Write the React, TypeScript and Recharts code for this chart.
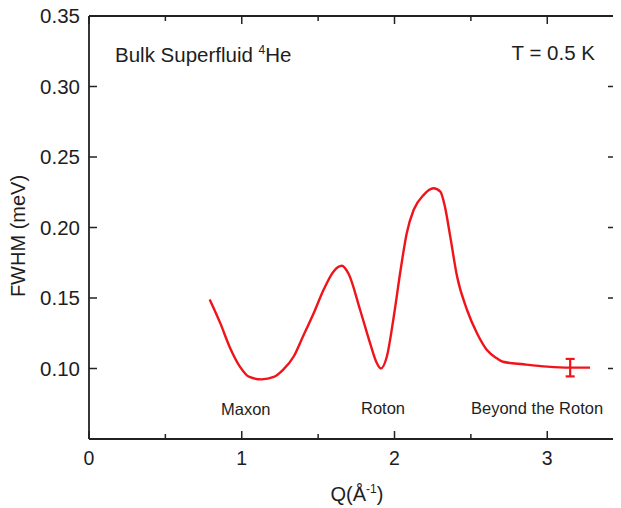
import React from 'react';
import { ComposedChart, Line, Scatter, ErrorBar, XAxis, YAxis } from 'recharts';

// Q in inverse angstrom, FWHM in meV
const qValues = [
  0.79, 0.86, 0.92, 0.99, 1.05, 1.13, 1.21, 1.27, 1.34, 1.4, 1.47, 1.535, 1.6, 1.655, 1.7,
  1.775, 1.84, 1.885, 1.91, 1.95, 1.995, 2.04, 2.08, 2.125, 2.19, 2.255, 2.3, 2.33, 2.365,
  2.41, 2.475, 2.54, 2.605, 2.67, 2.71, 2.845, 3.0, 3.15, 3.28,
];
const fwhmValues = [
  0.149, 0.132, 0.1155, 0.101, 0.094, 0.0923, 0.094, 0.099, 0.1085, 0.1225, 0.139, 0.1557,
  0.1687, 0.1729, 0.167, 0.1415, 0.118, 0.1037, 0.1, 0.1085, 0.1367, 0.17, 0.196, 0.2124,
  0.223, 0.2278, 0.2254, 0.2148, 0.1935, 0.165, 0.1415, 0.125, 0.1131, 0.1072, 0.1048,
  0.103, 0.1013, 0.1006, 0.1006,
];

// single representative error bar
const errQ = [3.15];
const errFwhm = [0.1006];
const errSize = [0.0062];

const qTicks = [0, 0.5, 1, 1.5, 2, 2.5, 3];
const fwhmTicks = [0.1, 0.15, 0.2, 0.25, 0.3, 0.35];

const curve = qValues.map((q, i) => ({ q, fwhm: fwhmValues[i] }));
const errPoints = errQ.map((q, i) => ({ q, fwhm: errFwhm[i], err: errSize[i] }));

const FONT = '"Liberation Sans", Arial, Helvetica, sans-serif';
const AXIS = '#222';
const TEXT = '#1e1e1e';
const RED = '#f0141a';

const BottomTick = (props: any) => {
  const { x, y, payload } = props;
  const major = Number.isInteger(payload.value);
  return (
    <g>
      <line x1={x} x2={x} y1={y} y2={y - (major ? 8 : 5)} stroke={AXIS} strokeWidth={1.5} />
      {major && (
        <text x={x} y={y + 26} textAnchor="middle" fontSize={19.5} fontFamily={FONT} fill={TEXT}>
          {payload.value}
        </text>
      )}
    </g>
  );
};

const TopTick = (props: any) => {
  const { x, y, payload } = props;
  const major = Number.isInteger(payload.value);
  return <line x1={x} x2={x} y1={y} y2={y + (major ? 8 : 5)} stroke={AXIS} strokeWidth={1.5} />;
};

const LeftTick = (props: any) => {
  const { x, y, payload } = props;
  return (
    <g>
      <line x1={x} x2={x + 8} y1={y} y2={y} stroke={AXIS} strokeWidth={1.5} />
      <text x={x - 9} y={y + 7} textAnchor="end" fontSize={20.5} fontFamily={FONT} fill={TEXT}>
        {payload.value.toFixed(2)}
      </text>
    </g>
  );
};

const RightTick = (props: any) => {
  const { x, y } = props;
  return <line x1={x} x2={x - 8} y1={y} y2={y} stroke={AXIS} strokeWidth={1.5} />;
};

export default function App() {
  // shifted over the body's top/left margin so the chart starts at the page corner
  return (
    <div
      style={{
        position: 'relative',
        width: 621,
        height: 508,
        marginTop: -8,
        marginLeft: -8,
        background: '#fff',
      }}
    >
      <ComposedChart
        width={621}
        height={508}
        data={curve}
        margin={{ top: 15, right: 4, bottom: 39, left: 29 }}
      >
        <XAxis
          dataKey="q"
          type="number"
          domain={[0, 3.45]}
          ticks={qTicks}
          interval={0}
          allowDataOverflow
          height={30}
          tickSize={0}
          tickMargin={0}
          tick={BottomTick}
          axisLine={{ stroke: AXIS, strokeWidth: 1.8 }}
        />
        <XAxis
          xAxisId="top"
          dataKey="q"
          orientation="top"
          type="number"
          domain={[0, 3.45]}
          ticks={qTicks}
          interval={0}
          allowDataOverflow
          height={1}
          tickSize={0}
          tickMargin={0}
          tick={TopTick}
          axisLine={{ stroke: AXIS, strokeWidth: 1.8 }}
        />
        <YAxis
          type="number"
          domain={[0.05, 0.35]}
          ticks={fwhmTicks}
          interval={0}
          allowDataOverflow
          width={60}
          tickSize={0}
          tickMargin={0}
          tick={LeftTick}
          axisLine={{ stroke: AXIS, strokeWidth: 1.8 }}
        />
        <YAxis
          yAxisId="right"
          orientation="right"
          type="number"
          domain={[0.05, 0.35]}
          ticks={fwhmTicks}
          interval={0}
          allowDataOverflow
          width={1}
          tickSize={0}
          tickMargin={0}
          tick={RightTick}
          axisLine={{ stroke: AXIS, strokeWidth: 1.8 }}
        />
        <Line
          type="monotone"
          dataKey="fwhm"
          stroke={RED}
          strokeWidth={2.4}
          dot={false}
          isAnimationActive={false}
        />
        <Scatter data={errPoints} dataKey="fwhm" shape={() => <g />} isAnimationActive={false}>
          <ErrorBar dataKey="err" direction="y" width={4.5} stroke={RED} strokeWidth={2.2} />
        </Scatter>
      </ComposedChart>

      {/* titles, axis labels and region annotations */}
      <svg
        width={621}
        height={508}
        style={{ position: 'absolute', left: 0, top: 0, pointerEvents: 'none' }}
        fontFamily={FONT}
        fill={TEXT}
      >
        <text x={25} y={236} fontSize={20} textAnchor="middle" transform="rotate(-90 25 236)">
          FWHM (meV)
        </text>
        <text x={357} y={501} fontSize={20} textAnchor="middle">
          Q(Å<tspan dy={-8} fontSize={12}>-1</tspan>
          <tspan dy={8}>)</tspan>
        </text>
        <text x={115} y={62} fontSize={20.5}>
          Bulk Superfluid <tspan dy={-8} fontSize={12}>4</tspan>
          <tspan dy={8}>He</tspan>
        </text>
        <text x={595} y={60} fontSize={20.5} textAnchor="end">
          T = 0.5 K
        </text>
        <text x={221} y={415} fontSize={16.5}>
          Maxon
        </text>
        <text x={361} y={414} fontSize={16.5}>
          Roton
        </text>
        <text x={471} y={414} fontSize={16.5}>
          Beyond the Roton
        </text>
      </svg>
    </div>
  );
}
